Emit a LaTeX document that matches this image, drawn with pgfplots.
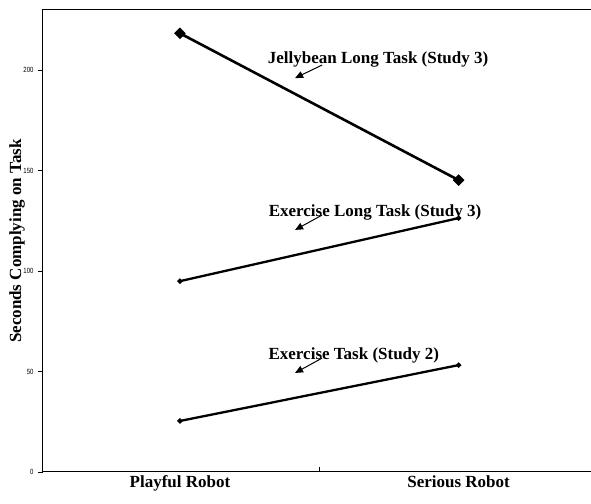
\documentclass[border=0pt]{standalone}
\usepackage{fontspec}
\setmainfont{Liberation Serif}
\newfontfamily\ticksf[FakeStretch=0.8]{Liberation Sans}
\usepackage{pgfplots}
\pgfplotsset{compat=1.18}
\usetikzlibrary{calc,arrows.meta}

\newcommand{\lblfont}{\bfseries\fontsize{17}{20}\selectfont}

\begin{document}
\begin{tikzpicture}
\begin{axis}[
    name=ax,
    scale only axis,
    width=549pt, height=462pt,
    xmin=0.505, xmax=2.475,
    ymin=0, ymax=230,
    axis lines*=left,
    axis line style={line width=1pt},
    xtick={1.5}, xticklabels={},
    ytick={0,50,100,150,200},
    tick align=inside,
    major tick length=5pt,
    tick style={black, line width=0.8pt},
    ytick style={xshift=-4pt},
    /pgf/number format/assume math mode=true,
    yticklabel style={font=\ticksf\fontsize{7.5}{8}\selectfont, xshift=-5pt},
    xticklabel style={font=\lblfont},
    extra x ticks={1,2},
    extra x tick labels={Playful Robot, Serious Robot},
    extra x tick style={major tick length=0pt},
    ylabel={Seconds Complying on Task},
    ylabel style={font=\lblfont, at={(rel axis cs:0,0.5)}, anchor=center, yshift=25pt},
    clip=false,
]
\draw[line width=1pt] (rel axis cs:0,1) -- (rel axis cs:1,1);

% Jellybean Long Task (Study 3)
\addplot[black, line width=2.6pt, mark=square*, mark size=2.8pt, mark options={rotate=45}]
    coordinates {(1,218.4) (2,145.3)};
% Exercise Long Task (Study 3)
\addplot[black, line width=2.3pt, mark=*, mark size=1.3pt]
    coordinates {(1,95.0) (2,126.4)};
% Exercise Task (Study 2)
\addplot[black, line width=2.3pt, mark=*, mark size=1.3pt]
    coordinates {(1,25.4) (2,53.2)};

\node[font=\lblfont] at (axis cs:1.711,205.6) {Jellybean Long Task (Study 3)};
\node[font=\lblfont] at (axis cs:1.700,129.4) {Exercise Long Task (Study 3)};
\node[font=\lblfont] at (axis cs:1.624,58.2) {Exercise Task (Study 2)};

\draw[line width=1pt, -{Triangle[length=8pt,width=7pt]}] (axis cs:1.510,202.6) -- (axis cs:1.413,196.1);
\draw[line width=1pt, -{Triangle[length=8pt,width=7pt]}] (axis cs:1.510,127.9) -- (axis cs:1.413,120.5);
\draw[line width=1pt, -{Triangle[length=8pt,width=7pt]}] (axis cs:1.510,56.7) -- (axis cs:1.413,49.3);
\end{axis}
\pgfresetboundingbox
\path[use as bounding box] ($(ax.south west)+(-42pt,-32pt)$) rectangle ($(ax.north east)+(0pt,10pt)$);
\end{tikzpicture}
\end{document}
